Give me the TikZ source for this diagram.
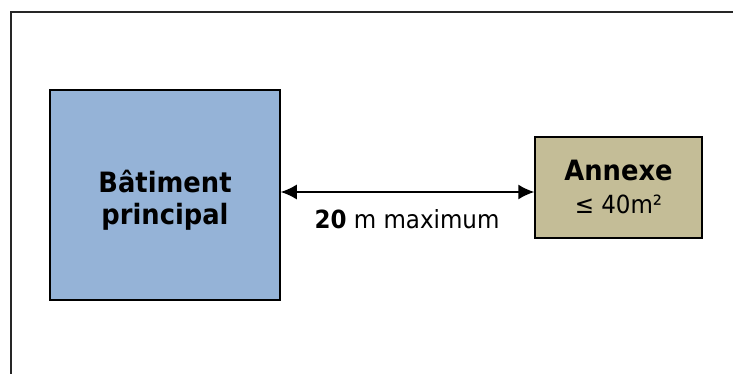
\documentclass[tikz,border=0pt]{standalone}
\usepackage{fontspec}
\setmainfont[FakeStretch=0.92]{DejaVu Sans}
\usetikzlibrary{arrows.meta}
\definecolor{batblue}{HTML}{95B3D7}
\definecolor{annextan}{HTML}{C4BD97}
\tikzset{
	building/.style={draw=black, line width=1.5pt, inner sep=0pt},
	boldtext/.style={font=\fontsize{28}{32}\selectfont\bfseries, align=center},
	normtext/.style={font=\fontsize{25}{30}\selectfont}
}
\begin{document}
\begin{tikzpicture}[x=1pt,y=-1pt]
		
		\useasboundingbox (0,0) rectangle (733,374);
		
		%Frame
		\draw[line width=2pt, black!85] (733,12) -- (11,12) -- (11,374);
		
		%Main building
		\node[building, fill=batblue, minimum width=230pt, minimum height=210pt] (bat) at (165,195) {};
		\node[boldtext] (batlabel) at ([yshift=-5pt]bat.center) {Bâtiment\\principal};
		
		%Annex
		\node[building, fill=annextan, minimum width=167pt, minimum height=101pt] (annex) at (618.5,187.5) {};
		\node[align=center, font=\fontsize{25}{33}\selectfont] (annexlabel) at ([yshift=1pt]annex.center) {{\fontsize{28}{33}\selectfont\bfseries Annexe}\\≤ 40m²};
		
		%Distance
		\coordinate (level) at (407,192);
		\draw[{Latex[length=16pt,width=15pt]}-{Latex[length=16pt,width=15pt]}, line width=1.5pt] (level -| bat.east) -- (level -| annex.west);
		\node[normtext, anchor=base] (dist) at (407,228) {\textbf{20} m maximum};
		
		\end{tikzpicture}
\end{document}
